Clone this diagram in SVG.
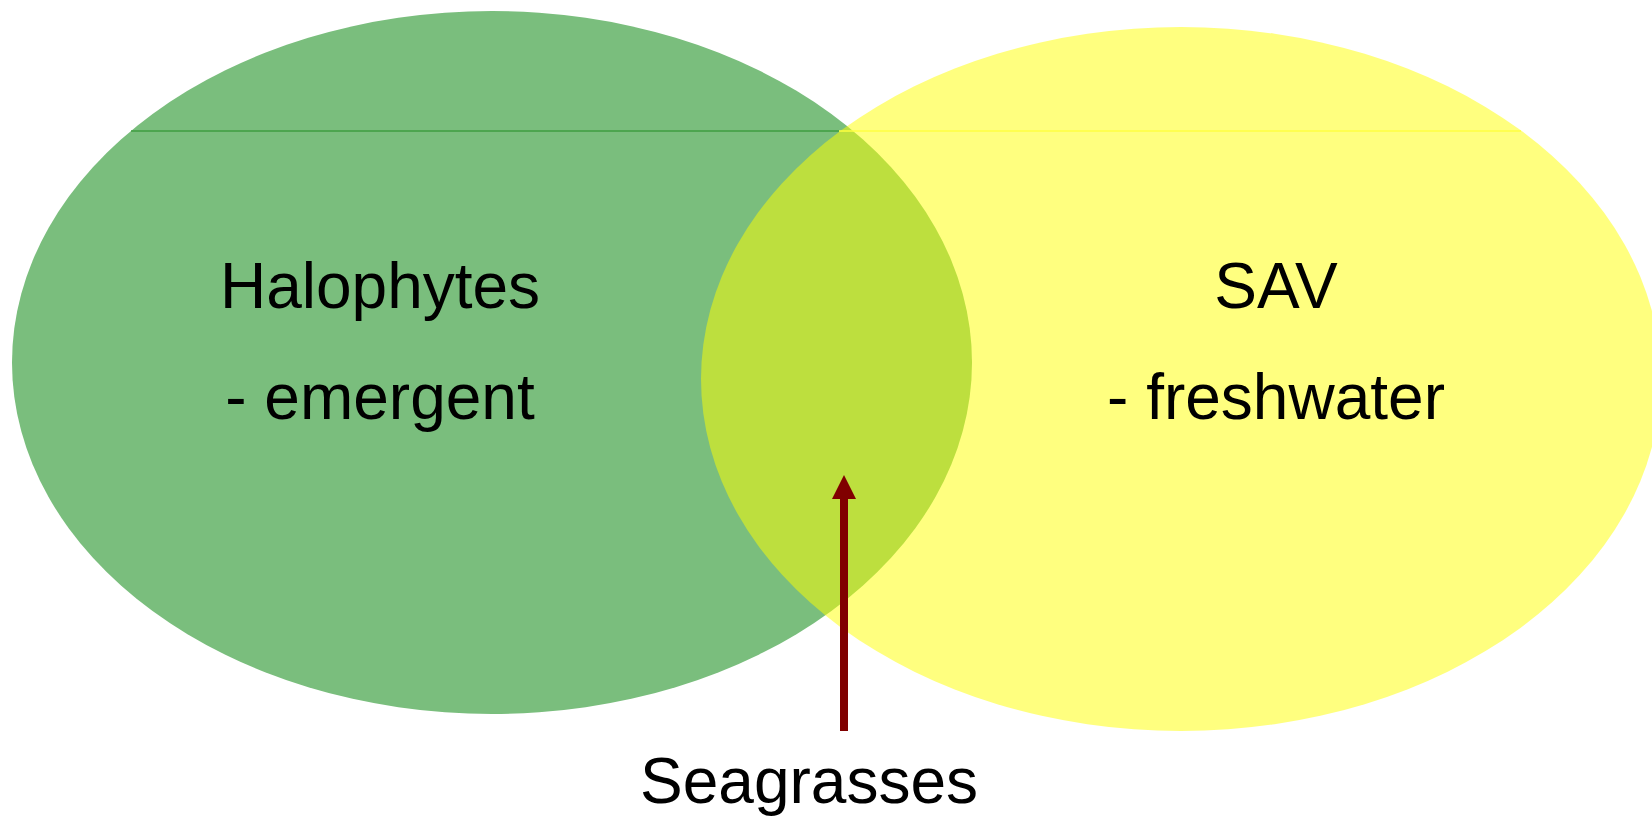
<svg xmlns="http://www.w3.org/2000/svg" width="1652" height="816" viewBox="0 0 1652 816">
  <style>
    .lbl { font-family: "Liberation Sans", Arial, sans-serif; font-size: 64px; fill: #000000; text-anchor: middle; }
  </style>
  <defs>
    <marker id="head" viewBox="0 0 24 24" refX="0" refY="12" markerWidth="24" markerHeight="24" markerUnits="userSpaceOnUse" orient="auto">
      <path d="M0,0 L24,12 L0,24 Z" fill="#800000"/>
    </marker>
  </defs>
  <rect width="1652" height="816" fill="#ffffff"/>
  <g id="halophytes">
    <ellipse cx="492" cy="362.5" rx="480" ry="351.5" fill="#7abe7d"/>
    <line x1="131" y1="131" x2="839" y2="131" stroke="#3f9c41" stroke-width="1.5"/>
    <text class="lbl" x="380" y="308">Halophytes</text>
    <text class="lbl" x="380" y="419">- emergent</text>
  </g>
  <g id="sav">
    <ellipse cx="1181" cy="379" rx="480" ry="352" fill="#ffff00" fill-opacity="0.5"/>
    <line x1="839" y1="131" x2="1521" y2="131" stroke="#ffff40" stroke-width="1.5"/>
    <text class="lbl" x="1276" y="308">SAV</text>
    <text class="lbl" x="1276" y="419">- freshwater</text>
  </g>
  <g id="seagrasses">
    <text class="lbl" x="809" y="803">Seagrasses</text>
  </g>
  <g id="connectors">
    <line x1="844" y1="731" x2="844" y2="499" stroke="#800000" stroke-width="8" marker-end="url(#head)"/>
  </g>
</svg>
